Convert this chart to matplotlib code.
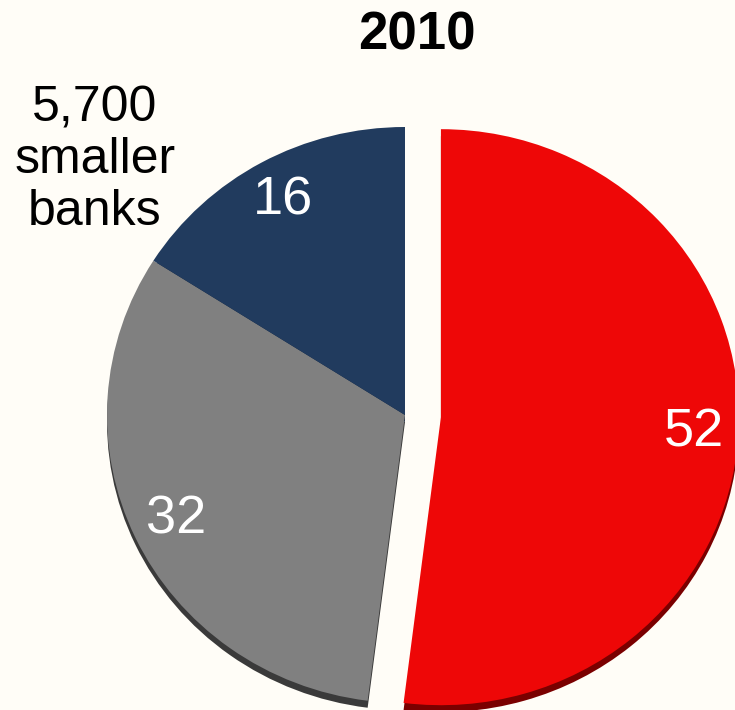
import matplotlib.pyplot as plt

shares = [52, 32, 16]
colors = ["#ee0707", "#808080", "#213b5e"]
rim_colors = ["#7a0000", "#3a3a3a", "#15253d"]
title = "2010"
side_note = "5,700\nsmaller\nbanks"

plt.rcParams["font.family"] = ["Liberation Sans", "DejaVu Sans"]

W, H = 735, 710
k = 298 / 288  # squash the pie a little vertically
fig = plt.figure(figsize=(W / 100, H / 100), dpi=100, facecolor="#fffdf7")
ax = fig.add_axes([0, 0, 1, 1])
ax.set_facecolor("#fffdf7")

cx, cy = 405, (710 - 415) * k
R = 298
explode = [36, 0, 0]  # pull the big slice out (data units)

# dark rim underneath (fake 3d edge)
ax.pie(shares, colors=rim_colors, explode=explode, startangle=90,
       counterclock=False, radius=R, center=(cx, cy - 7 * k),
       wedgeprops=dict(linewidth=0), frame=True)

wedges, texts, autotexts = ax.pie(
    shares, colors=colors, explode=explode, startangle=90, counterclock=False,
    radius=R, center=(cx, cy), autopct=lambda p: f"{p:.0f}", pctdistance=0.85,
    wedgeprops=dict(linewidth=0), textprops=dict(color="white", fontsize=39),
    frame=True)

ax.set_xlim(0, W)
ax.set_ylim(0, H * k)
ax.set_aspect("auto")
ax.axis("off")

fig.text(417 / W, 1 - 36 / H, title, ha="center", va="center",
         fontsize=38, fontweight="bold", color="black")
fig.text(95 / W, 1 - 160 / H, side_note, ha="center", va="center",
         fontsize=36, color="black", linespacing=1.16)

fig.savefig("out.png", dpi=100, facecolor=fig.get_facecolor())
